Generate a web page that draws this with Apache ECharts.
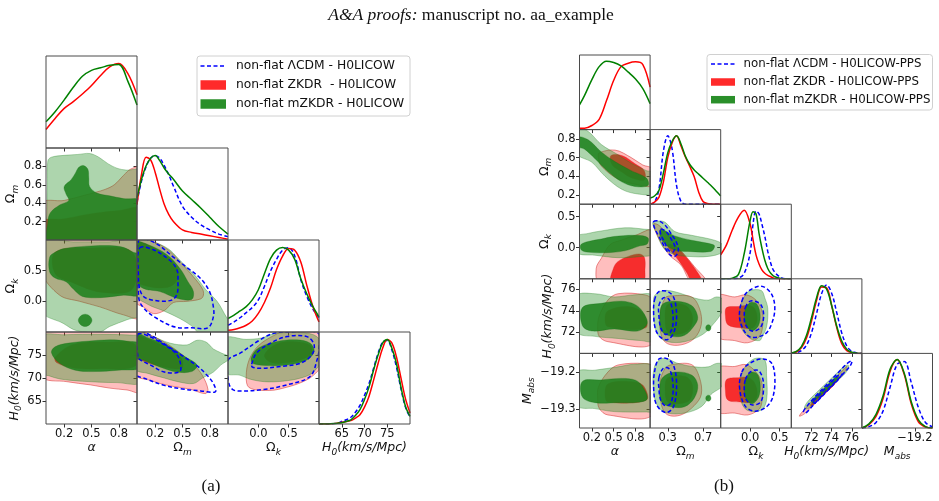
<!DOCTYPE html>
<html><head><meta charset="utf-8">
<script src="https://cdn.jsdelivr.net/npm/echarts@6/dist/echarts.min.js"></script>
<style>html,body{margin:0;padding:0;background:#fff}#c{width:939px;height:501px}</style>
</head><body><div id="c"></div>
<script>
// ================= DATA : panel (a) =================
// tick values
const L_tick_alpha = [0.2, 0.5, 0.8];
const L_tick_om_x = [0.2, 0.5, 0.8];
const L_tick_om_y = [0.2, 0.4, 0.6, 0.8];
const L_tick_ok = [0.0, 0.5];
const L_tick_h0 = [65, 70, 75];
// 1D marginals (normalised density)
const L_alpha_x = [0, 0.1, 0.2, 0.3, 0.4, 0.5, 0.6, 0.7, 0.8, 0.9, 1.0];
const L_alpha_red = [0.22, 0.35, 0.47, 0.55, 0.64, 0.74, 0.86, 0.96, 1.0, 0.88, 0.63];
const L_alpha_green = [0.31, 0.43, 0.57, 0.72, 0.85, 0.92, 0.95, 0.98, 0.99, 0.79, 0.51];
const L_om_x = [0, 0.05, 0.1, 0.15, 0.2, 0.25, 0.3, 0.35, 0.4, 0.5, 0.6, 0.7, 0.8, 0.9, 1.0];
const L_om_blue = [0.45, 0.7, 0.87, 0.97, 1.0, 0.97, 0.88, 0.77, 0.64, 0.4, 0.27, 0.18, 0.12, 0.07, 0.04];
const L_om_red = [0.42, 0.78, 0.98, 0.95, 0.8, 0.6, 0.42, 0.3, 0.22, 0.12, 0.09, 0.07, 0.05, 0.03, 0.01];
const L_om_green = [0.5, 0.72, 0.88, 0.97, 1.0, 0.94, 0.85, 0.78, 0.72, 0.58, 0.48, 0.38, 0.27, 0.16, 0.07];
const L_ok_x = [-0.5, -0.4, -0.3, -0.2, -0.1, 0.0, 0.1, 0.2, 0.3, 0.4, 0.5, 0.6, 0.7, 0.8, 0.9, 1.0];
const L_ok_blue = [0.08, 0.12, 0.17, 0.23, 0.29, 0.38, 0.54, 0.72, 0.86, 0.97, 1.0, 0.9, 0.62, 0.42, 0.27, 0.17];
const L_ok_red = [0.02, 0.03, 0.05, 0.08, 0.13, 0.22, 0.35, 0.52, 0.74, 0.9, 0.99, 0.97, 0.83, 0.55, 0.3, 0.12];
const L_ok_green = [0.16, 0.2, 0.25, 0.3, 0.38, 0.5, 0.69, 0.87, 0.97, 1.0, 0.97, 0.86, 0.63, 0.45, 0.3, 0.18];
const L_h0_x = [60, 62, 64, 65, 66, 67, 68, 69, 70, 71, 72, 73, 74, 75, 76, 77, 78, 79, 80];
const L_h0_blue = [0, 0, 0.01, 0.03, 0.05, 0.08, 0.14, 0.22, 0.34, 0.48, 0.66, 0.84, 0.97, 0.99, 0.88, 0.68, 0.42, 0.2, 0.08];
const L_h0_red = [0, 0, 0.01, 0.02, 0.03, 0.04, 0.07, 0.11, 0.2, 0.33, 0.52, 0.72, 0.9, 1.0, 0.96, 0.8, 0.55, 0.3, 0.13];
const L_h0_green = [0, 0, 0.01, 0.015, 0.03, 0.05, 0.1, 0.17, 0.29, 0.44, 0.64, 0.82, 0.96, 1.0, 0.9, 0.72, 0.44, 0.21, 0.09];
// 2D contours (x, y) in data units
const L_am_r95 = [[-0.05,0.40],[0.2,0.43],[0.4,0.48],[0.55,0.52],[0.65,0.55],[0.75,0.6],[0.85,0.7],[0.93,0.77],[1.05,0.79],[1.05,-0.05],[-0.05,-0.05]];
const L_am_r68 = [[-0.05,0.2],[0.2,0.23],[0.4,0.27],[0.6,0.3],[0.8,0.32],[1.05,0.34],[1.05,-0.05],[-0.05,-0.05]];
const L_am_g95 = [[0.02,0.86],[0.06,0.9],[0.2,0.92],[0.35,0.93],[0.48,0.94],[0.58,0.9],[0.68,0.83],[0.78,0.78],[0.88,0.76],[1.05,0.75],[1.05,-0.05],[0.02,-0.05],[0.01,0.3],[0.015,0.6]];
const L_am_g68 = [[0.03,-0.05],[0.02,0.2],[0.05,0.3],[0.15,0.38],[0.25,0.43],[0.22,0.5],[0.2,0.58],[0.28,0.66],[0.33,0.74],[0.36,0.79],[0.41,0.81],[0.46,0.77],[0.47,0.68],[0.48,0.58],[0.56,0.51],[0.7,0.48],[0.85,0.45],[1.05,0.42],[1.05,-0.05]];
const L_ak_r95 = [[-0.05,1.05],[1.05,1.05],[1.05,-0.26],[0.85,-0.22],[0.59,-0.09],[0.37,0.0],[0.15,0.1],[-0.05,0.48]];
const L_ak_r68 = [[0.1,0.8],[0.5,0.87],[0.95,0.8],[0.95,0.2],[0.6,0.15],[0.3,0.3],[0.1,0.45]];
const L_ak_g95 = [[-0.05,0.97],[0.3,0.97],[0.67,0.97],[1.05,0.96],[1.05,-0.2],[0.89,-0.3],[0.7,-0.41],[0.59,-0.5],[0.34,-0.48],[0.19,-0.36],[-0.05,-0.15]];
const L_ak_g68 = [[0.04,0.72],[0.1,0.8],[0.2,0.86],[0.45,0.9],[0.7,0.91],[0.85,0.88],[0.96,0.8],[1.05,0.75],[1.05,0.12],[0.85,0.1],[0.6,0.06],[0.4,0.08],[0.3,0.2],[0.22,0.32],[0.1,0.38],[0.04,0.48]];
const L_ak_gblob = [[0.505,-0.31],[0.48,-0.24],[0.43,-0.21],[0.38,-0.24],[0.355,-0.31],[0.38,-0.38],[0.43,-0.41],[0.48,-0.38]];
const L_ah_r95 = [[-0.05,80.5],[1.05,80.5],[1.05,67],[0.89,67.4],[0.7,67.8],[0.49,68.5],[0.23,69.2],[-0.05,70.4]];
const L_ah_r68 = [[0.1,74.5],[0.3,77.3],[0.7,77.8],[0.98,77.3],[0.98,72.6],[0.6,72.0],[0.3,72.2],[0.12,73.3]];
const L_ah_g95 = [[-0.05,79.0],[0.2,79.4],[0.6,79.5],[0.97,79.3],[1.05,79.0],[1.05,69.2],[0.78,69.0],[0.4,69.3],[0.15,69.8],[0.03,70.5],[-0.05,71]];
const L_ah_g68 = [[0.06,75.5],[0.1,76.8],[0.25,77.6],[0.45,78.0],[0.7,78.3],[0.9,78.0],[1.05,77.3],[1.05,72.4],[0.8,71.7],[0.52,71.4],[0.32,71.7],[0.15,73.2]];
const L_mk_r95 = [[-0.02,1.05],[0.2,0.96],[0.35,0.83],[0.5,0.6],[0.62,0.4],[0.72,0.2],[0.73,0.1],[0.7,0.04],[0.55,0.0],[0.4,-0.02],[0.3,-0.15],[0.18,-0.2],[0.08,-0.1],[-0.02,0.0]];
const L_mk_r68 = [[-0.02,0.95],[0.15,0.9],[0.35,0.7],[0.45,0.5],[0.42,0.3],[0.3,0.22],[0.1,0.25],[-0.02,0.35]];
const L_mk_g95 = [[-0.02,1.03],[0.2,0.96],[0.35,0.85],[0.44,0.72],[0.55,0.55],[0.65,0.4],[0.75,0.2],[0.88,0.0],[0.96,-0.2],[1.03,-0.4],[1.03,-0.56],[0.72,-0.56],[0.6,-0.4],[0.47,-0.28],[0.3,-0.16],[0.12,-0.05],[-0.02,0.12]];
const L_mk_g68 = [[-0.02,0.96],[0.13,0.92],[0.33,0.76],[0.47,0.54],[0.56,0.32],[0.62,0.16],[0.6,0.03],[0.44,0.05],[0.25,0.16],[0.07,0.21],[-0.02,0.36]];
const L_mk_b95 = [[0.02,1.0],[0.2,0.95],[0.4,0.72],[0.55,0.55],[0.7,0.37],[0.8,0.15],[0.84,-0.1],[0.84,-0.25],[0.78,-0.43],[0.6,-0.43],[0.42,-0.42],[0.22,-0.28],[0.08,-0.12],[0.02,0.05]];
const L_mk_b68 = [[0.03,0.87],[0.18,0.84],[0.36,0.67],[0.44,0.51],[0.45,0.32],[0.44,0.12],[0.38,0.02],[0.22,0.01],[0.08,0.07],[0.03,0.2],[0.015,0.45]];
const L_mh_r95 = [[-0.02,80.5],[0.15,79.3],[0.35,77.2],[0.5,75.0],[0.62,73.0],[0.72,70.5],[0.78,67.5],[0.75,66.6],[0.58,67.6],[0.36,68.3],[0.14,69.5],[-0.02,70.8]];
const L_mh_r68 = [[-0.02,79],[0.14,78.3],[0.3,76.8],[0.48,74.5],[0.5,72.3],[0.4,72],[0.2,72.8],[0.05,73.8],[-0.02,74.5]];
const L_mh_g95 = [[-0.02,80.0],[0.14,79.3],[0.36,77.6],[0.55,77.2],[0.66,78.2],[0.76,77.8],[0.84,76.3],[0.92,75.5],[1.02,74.4],[0.92,72.8],[0.84,71.3],[0.72,70.0],[0.62,68.8],[0.45,69.2],[0.3,70.0],[0.12,71.0],[-0.02,72.0]];
const L_mh_g68 = [[-0.02,79.6],[0.14,78.6],[0.33,77.2],[0.53,74.6],[0.66,72.8],[0.6,71.4],[0.44,71.3],[0.25,72.4],[0.07,73.9],[-0.02,74.5]];
const L_mh_b95 = [[-0.02,80.2],[0.15,79.3],[0.33,77.0],[0.5,74.8],[0.65,72.8],[0.75,71.0],[0.84,68.8],[0.86,67.0],[0.7,67.2],[0.5,67.6],[0.3,68.4],[0.1,69.8],[-0.02,71.0]];
const L_mh_b68 = [[0.01,79.5],[0.14,79.0],[0.3,77.2],[0.42,75.5],[0.47,73.8],[0.47,71.4],[0.3,71.3],[0.15,72.8],[0.04,73.9],[0.01,74.5]];
const L_kh_r95 = [[-0.15,74.0],[0.0,77.0],[0.25,79.2],[0.5,80.5],[0.95,80.5],[1.05,78],[1.05,73],[0.9,70.5],[0.72,69.1],[0.47,68.0],[0.19,67.3],[-0.15,67.9],[-0.2,70.3]];
const L_kh_r68 = [[0.1,75],[0.3,77.4],[0.6,77.9],[0.85,77.2],[0.88,75.5],[0.75,74.2],[0.45,73.3],[0.2,73.4]];
const L_kh_g95 = [[-0.55,78.6],[-0.2,78.4],[0.05,78.7],[0.25,79.6],[0.6,79.9],[0.91,79.4],[1.05,77.5],[1.05,74.0],[0.9,71.2],[0.7,70.0],[0.4,69.3],[0.1,69.2],[-0.15,69.8],[-0.3,70.6],[-0.55,71.2]];
const L_kh_g68 = [[-0.12,74.3],[0.0,76.5],[0.3,77.9],[0.63,78.3],[0.85,77.6],[0.92,75.8],[0.8,73.9],[0.47,72.8],[0.19,72.7],[-0.08,73.1]];
const L_kh_b95 = [[-0.5,73.9],[-0.3,75.4],[0.03,78.3],[0.25,79.7],[0.5,80],[0.98,79.8],[1.0,76.3],[0.97,74.0],[0.85,70.3],[0.47,68.5],[0.08,67.5],[-0.36,67.2],[-0.46,68.0],[-0.5,70.2]];
const L_kh_b68 = [[-0.11,73.0],[-0.03,75.4],[0.19,77.5],[0.47,79.0],[0.8,79.0],[0.92,77.2],[0.88,75.0],[0.69,73.2],[0.36,72.5],[0.03,72.1],[-0.1,72.4]];

// ================= DATA : panel (b) =================
const R_tick_alpha = [0.2, 0.5, 0.8];
const R_tick_om_x = [0.3, 0.7];
const R_tick_om_y = [0.2, 0.4, 0.6, 0.8];
const R_tick_ok = [0.0, 0.5];
const R_tick_h0 = [72, 74, 76];
const R_tick_m_x = [-19.2];
const R_tick_m_y = [-19.2, -19.3];
const R_alpha_x = [0.03, 0.1, 0.2, 0.3, 0.4, 0.5, 0.6, 0.7, 0.8, 0.9, 1.0];
const R_alpha_red = [0.02, 0.02, 0.06, 0.15, 0.42, 0.72, 0.92, 0.97, 0.99, 0.95, 0.62];
const R_alpha_green = [0.36, 0.5, 0.73, 0.92, 1.0, 0.98, 0.93, 0.84, 0.74, 0.6, 0.38];
const R_om_x = [0.1, 0.15, 0.2, 0.25, 0.3, 0.35, 0.4, 0.45, 0.5, 0.55, 0.6, 0.65, 0.7, 0.75, 0.8, 0.85, 0.9];
const R_om_blue = [0.0, 0.03, 0.22, 0.77, 1.0, 0.8, 0.27, 0.04, 0.0, 0, 0, 0, 0, 0, 0, 0, 0];
const R_om_red = [0.0, 0.03, 0.1, 0.32, 0.68, 0.9, 1.0, 0.85, 0.69, 0.55, 0.4, 0.18, 0.04, 0.01, 0, 0, 0];
const R_om_green = [0.09, 0.12, 0.2, 0.45, 0.75, 0.92, 1.0, 0.88, 0.7, 0.58, 0.5, 0.44, 0.38, 0.32, 0.26, 0.19, 0.12];
const R_ok_x = [-0.5, -0.4, -0.3, -0.2, -0.1, 0.0, 0.05, 0.1, 0.15, 0.2, 0.25, 0.3, 0.35, 0.4, 0.5, 0.6, 0.7];
const R_ok_blue = [0, 0, 0, 0.01, 0.08, 0.38, 0.8, 0.99, 0.95, 0.8, 0.62, 0.4, 0.23, 0.12, 0.03, 0, 0];
const R_ok_red = [0.35, 0.5, 0.72, 0.9, 1.0, 0.8, 0.57, 0.35, 0.22, 0.13, 0.08, 0.05, 0.03, 0.01, 0, 0, 0];
const R_ok_green = [0, 0, 0.01, 0.06, 0.37, 0.85, 0.98, 0.95, 0.67, 0.45, 0.27, 0.15, 0.08, 0.04, 0.01, 0, 0];
const R_h0_x = [70, 70.5, 71, 71.5, 72, 72.5, 73, 73.5, 74, 74.5, 75, 75.5, 76, 76.5, 77];
const R_h0_blue = [0.003, 0.01, 0.04, 0.12, 0.3, 0.58, 0.87, 1.0, 0.88, 0.6, 0.3, 0.11, 0.03, 0.01, 0];
const R_h0_red = [0.004, 0.02, 0.08, 0.22, 0.47, 0.77, 0.97, 0.96, 0.7, 0.38, 0.14, 0.04, 0.01, 0, 0];
const R_h0_green = [0.007, 0.03, 0.1, 0.26, 0.52, 0.81, 0.99, 0.94, 0.7, 0.4, 0.18, 0.06, 0.017, 0.004, 0];
const R_m_x = [-19.35, -19.33, -19.31, -19.29, -19.27, -19.25, -19.23, -19.21, -19.19, -19.17, -19.15];
const R_m_blue = [0.0, 0.02, 0.08, 0.25, 0.6, 0.93, 0.97, 0.66, 0.3, 0.08, 0.02];
const R_m_red = [0.0, 0.05, 0.17, 0.43, 0.83, 1.0, 0.78, 0.35, 0.09, 0.015, 0.0];
const R_m_green = [0.0, 0.06, 0.2, 0.47, 0.86, 1.0, 0.8, 0.38, 0.12, 0.02, 0.0];

const R_am_r95 = [[0.3,0.65],[0.52,0.68],[0.74,0.6],[0.9,0.52],[1.03,0.48],[1.03,0.3],[0.83,0.31],[0.56,0.37],[0.33,0.51],[0.29,0.6]];
const R_am_r68 = [[0.46,0.62],[0.62,0.62],[0.8,0.53],[0.92,0.46],[0.92,0.36],[0.75,0.38],[0.6,0.45],[0.48,0.52]];
const R_am_g95 = [[0.0,0.92],[0.15,0.88],[0.33,0.74],[0.56,0.63],[0.74,0.54],[0.95,0.46],[1.03,0.44],[1.03,0.22],[0.83,0.21],[0.61,0.26],[0.38,0.4],[0.2,0.55],[0.0,0.64]];
const R_am_g68 = [[0.0,0.82],[0.15,0.79],[0.33,0.66],[0.51,0.56],[0.74,0.46],[0.95,0.38],[0.97,0.3],[0.79,0.29],[0.61,0.34],[0.42,0.45],[0.24,0.59],[0.1,0.69],[0.0,0.72]];
const R_ak_r95 = [[0.45,0.05],[0.6,0.12],[0.8,0.2],[1.03,0.27],[1.03,-0.55],[0.3,-0.55],[0.26,-0.33],[0.33,-0.17]];
const R_ak_r68 = [[0.47,-0.55],[0.5,-0.32],[0.56,-0.22],[0.7,-0.14],[0.85,-0.1],[0.92,-0.15],[0.93,-0.35],[0.9,-0.55]];
const R_ak_g95 = [[0.0,0.18],[0.15,0.23],[0.33,0.27],[0.65,0.32],[0.9,0.3],[1.03,0.26],[1.03,-0.1],[0.88,-0.14],[0.56,-0.16],[0.24,-0.12],[0.0,-0.08]];
const R_ak_g68 = [[0.05,0.05],[0.15,0.1],[0.33,0.14],[0.5,0.18],[0.82,0.2],[0.97,0.16],[0.96,0.06],[0.86,0.03],[0.65,-0.05],[0.4,-0.08],[0.13,-0.07],[0.05,-0.03]];
const R_ah_r95 = [[0.3,73.5],[0.42,75.0],[0.56,75.6],[0.92,75.5],[1.03,75.0],[1.03,70.9],[0.42,71.1],[0.3,71.6],[0.28,72.5]];
const R_ah_r68 = [[0.42,74.0],[0.7,74.4],[0.9,73.8],[0.94,72.4],[0.42,72.5],[0.38,73.2]];
const R_ah_g95 = [[0.0,75.4],[0.24,75.6],[0.51,75.3],[0.79,75.5],[1.03,75.4],[1.03,71.2],[0.88,71.2],[0.56,71.4],[0.24,71.6],[0.0,72.0]];
const R_ah_g68 = [[0.07,74.3],[0.33,74.7],[0.61,74.9],[0.79,74.6],[0.9,73.9],[0.96,72.8],[0.83,72.1],[0.51,72.3],[0.2,72.1],[0.07,72.6]];
const R_aM_r95 = [[0.29,-19.24],[0.42,-19.2],[0.56,-19.181],[0.92,-19.177],[1.03,-19.185],[1.03,-19.315],[0.42,-19.315],[0.3,-19.297],[0.28,-19.27]];
const R_aM_r68 = [[0.42,-19.232],[0.7,-19.225],[0.9,-19.235],[0.95,-19.275],[0.42,-19.28],[0.38,-19.26]];
const R_aM_g95 = [[0.0,-19.2],[0.24,-19.195],[0.56,-19.186],[0.79,-19.179],[1.03,-19.185],[1.03,-19.305],[0.95,-19.307],[0.51,-19.306],[0.24,-19.298],[0.0,-19.29]];
const R_aM_g68 = [[0.07,-19.225],[0.33,-19.221],[0.61,-19.217],[0.8,-19.222],[0.9,-19.24],[0.96,-19.272],[0.83,-19.281],[0.56,-19.282],[0.24,-19.282],[0.07,-19.267]];
const R_mk_r95 = [[0.14,0.38],[0.2,0.36],[0.3,0.2],[0.38,0.05],[0.47,-0.08],[0.6,-0.3],[0.74,-0.55],[0.57,-0.55],[0.45,-0.28],[0.32,-0.12],[0.2,0.14]];
const R_mk_r68 = [[0.3,0.05],[0.38,0.03],[0.49,-0.12],[0.6,-0.32],[0.69,-0.55],[0.58,-0.55],[0.51,-0.39],[0.42,-0.2],[0.32,-0.03]];
const R_mk_g95 = [[0.13,0.4],[0.2,0.43],[0.27,0.41],[0.38,0.26],[0.57,0.2],[0.83,0.12],[0.92,0.05],[0.92,-0.07],[0.76,-0.14],[0.53,-0.14],[0.38,-0.11],[0.26,-0.02],[0.17,0.24]];
const R_mk_g68 = [[0.22,0.3],[0.3,0.25],[0.38,0.19],[0.57,0.12],[0.76,0.07],[0.83,0.03],[0.79,-0.06],[0.53,-0.06],[0.38,-0.04],[0.26,0.07],[0.21,0.2]];
const R_mk_b95 = [[0.14,0.42],[0.2,0.43],[0.27,0.36],[0.34,0.22],[0.4,0.08],[0.42,-0.05],[0.38,-0.14],[0.33,-0.12],[0.27,0.0],[0.2,0.18],[0.15,0.32]];
const R_mk_b68 = [[0.22,0.3],[0.28,0.26],[0.34,0.14],[0.38,0.02],[0.36,-0.07],[0.31,-0.04],[0.26,0.1],[0.22,0.22]];
const R_mh_r95 = [[0.27,75.2],[0.35,75.4],[0.57,75.3],[0.66,74.2],[0.68,72.7],[0.6,71.4],[0.45,70.8],[0.3,70.9],[0.23,71.6],[0.21,73.5]];
const R_mh_r68 = [[0.3,74.6],[0.5,74.5],[0.58,73.5],[0.55,72.3],[0.42,71.8],[0.3,72.0],[0.27,73.2]];
const R_mh_g95 = [[0.15,75.4],[0.25,75.9],[0.42,75.7],[0.6,75.2],[0.76,75.0],[0.85,75.3],[0.92,75.1],[0.92,74.0],[0.79,72.5],[0.68,71.7],[0.49,71.1],[0.3,71.1],[0.19,71.7],[0.14,73.2],[0.14,74.5]];
const R_mh_g68 = [[0.24,74.6],[0.38,74.9],[0.57,74.5],[0.64,73.4],[0.6,72.6],[0.49,71.7],[0.34,71.6],[0.23,72.1],[0.21,73.3]];
const R_mh_gblob = [[0.79,72.4],[0.78,72.62],[0.76,72.7],[0.74,72.62],[0.73,72.4],[0.74,72.18],[0.76,72.1],[0.78,72.18]];
const R_mh_b95 = [[0.15,75.0],[0.2,75.8],[0.3,75.8],[0.37,75.2],[0.4,73.5],[0.37,72.0],[0.3,71.3],[0.22,71.5],[0.16,72.3],[0.14,73.8]];
const R_mh_b68 = [[0.2,74.5],[0.25,75.2],[0.31,75.1],[0.35,74.2],[0.36,72.8],[0.33,72.0],[0.27,71.8],[0.22,72.4],[0.2,73.5]];
const R_mM_r95 = [[0.27,-19.19],[0.35,-19.18],[0.57,-19.18],[0.66,-19.215],[0.68,-19.26],[0.6,-19.29],[0.45,-19.315],[0.3,-19.315],[0.23,-19.29],[0.21,-19.23]];
const R_mM_r68 = [[0.3,-19.215],[0.5,-19.212],[0.58,-19.235],[0.55,-19.275],[0.42,-19.285],[0.3,-19.28],[0.27,-19.25]];
const R_mM_g95 = [[0.15,-19.185],[0.25,-19.163],[0.42,-19.177],[0.6,-19.186],[0.76,-19.186],[0.85,-19.177],[0.92,-19.18],[0.92,-19.235],[0.79,-19.26],[0.68,-19.293],[0.49,-19.31],[0.3,-19.31],[0.19,-19.293],[0.14,-19.253]];
const R_mM_g68 = [[0.24,-19.215],[0.38,-19.2],[0.57,-19.208],[0.64,-19.235],[0.6,-19.27],[0.49,-19.293],[0.34,-19.293],[0.23,-19.28],[0.21,-19.245]];
const R_mM_gblob = [[0.79,-19.27],[0.78,-19.264],[0.76,-19.262],[0.74,-19.264],[0.73,-19.27],[0.74,-19.276],[0.76,-19.278],[0.78,-19.276]];
const R_mM_b95 = [[0.15,-19.2],[0.2,-19.165],[0.3,-19.165],[0.37,-19.185],[0.4,-19.235],[0.37,-19.29],[0.3,-19.308],[0.22,-19.302],[0.16,-19.28],[0.14,-19.24]];
const R_mM_b68 = [[0.2,-19.215],[0.25,-19.19],[0.31,-19.19],[0.35,-19.215],[0.36,-19.255],[0.33,-19.285],[0.27,-19.29],[0.22,-19.275],[0.2,-19.245]];
const R_kh_r95 = [[-0.55,75.4],[-0.26,75.3],[-0.07,75.5],[0.1,75.0],[0.2,74.0],[0.22,73.0],[0.16,71.6],[-0.04,71.0],[-0.26,71.2],[-0.55,71.6]];
const R_kh_r68 = [[-0.4,74.3],[-0.2,74.4],[-0.02,74.5],[0.08,74.2],[0.12,73.2],[0.05,72.4],[-0.18,72.4],[-0.38,72.7],[-0.42,73.5]];
const R_kh_g95 = [[-0.08,75.5],[0.0,75.9],[0.19,75.9],[0.25,75.2],[0.3,74.2],[0.28,72.5],[0.2,71.5],[0.16,71.2],[0.0,71.4],[-0.15,72.4],[-0.18,74.2]];
const R_kh_g68 = [[-0.06,74.4],[0.02,74.8],[0.12,74.6],[0.17,73.6],[0.14,72.6],[0.03,72.1],[-0.06,72.6],[-0.1,73.6]];
const R_kh_b95 = [[-0.14,74.9],[-0.04,75.8],[0.19,76.3],[0.36,75.6],[0.42,74.2],[0.36,72.7],[0.25,71.8],[0.02,71.5],[-0.1,72.1],[-0.18,73.4]];
const R_kh_b68 = [[-0.08,74.3],[0.0,74.9],[0.13,74.8],[0.2,74.4],[0.23,73.4],[0.17,72.4],[0.03,72.1],[-0.08,72.7],[-0.1,73.6]];
const R_kM_r95 = [[-0.55,-19.19],[-0.26,-19.185],[-0.07,-19.18],[0.1,-19.2],[0.2,-19.23],[0.2,-19.28],[0.15,-19.3],[-0.04,-19.315],[-0.26,-19.31],[-0.55,-19.305]];
const R_kM_r68 = [[-0.4,-19.22],[-0.2,-19.215],[-0.02,-19.215],[0.08,-19.23],[0.12,-19.26],[0.05,-19.28],[-0.18,-19.28],[-0.38,-19.275],[-0.42,-19.25]];
const R_kM_g95 = [[-0.1,-19.19],[-0.03,-19.175],[0.1,-19.163],[0.25,-19.168],[0.28,-19.21],[0.28,-19.275],[0.19,-19.302],[-0.04,-19.303],[-0.15,-19.28],[-0.18,-19.226]];
const R_kM_g68 = [[-0.07,-19.215],[0.02,-19.2],[0.12,-19.205],[0.17,-19.23],[0.15,-19.265],[0.04,-19.285],[-0.06,-19.275],[-0.1,-19.245]];
const R_kM_b95 = [[-0.14,-19.2],[-0.04,-19.18],[0.19,-19.165],[0.36,-19.175],[0.42,-19.213],[0.39,-19.265],[0.28,-19.293],[0.08,-19.305],[-0.09,-19.29],[-0.18,-19.24]];
const R_kM_b68 = [[-0.08,-19.22],[0.0,-19.2],[0.13,-19.195],[0.2,-19.21],[0.23,-19.24],[0.18,-19.28],[0.03,-19.288],[-0.08,-19.27],[-0.1,-19.245]];
const R_hM_r95 = [[70.8,-19.318],[71.3,-19.3],[72.5,-19.265],[73.5,-19.238],[74.5,-19.212],[75.3,-19.19],[75.5,-19.185],[75.3,-19.2],[74.5,-19.226],[73.5,-19.252],[72.5,-19.28],[71.3,-19.312]];
const R_hM_r68 = [[71.9,-19.288],[72.5,-19.27],[73.5,-19.244],[74.3,-19.224],[74.5,-19.222],[74.2,-19.236],[73.5,-19.254],[72.5,-19.28],[72.0,-19.292]];
const R_hM_g95 = [[71.3,-19.297],[71.6,-19.28],[72.5,-19.255],[73.5,-19.229],[74.5,-19.203],[75.3,-19.183],[75.7,-19.183],[75.4,-19.202],[74.5,-19.225],[73.5,-19.251],[72.5,-19.277],[71.7,-19.298]];
const R_hM_g68 = [[72.0,-19.279],[72.5,-19.263],[73.5,-19.237],[74.3,-19.216],[74.7,-19.212],[74.3,-19.228],[73.5,-19.249],[72.5,-19.273],[72.1,-19.283]];
const R_hM_b95 = [[71.2,-19.306],[71.6,-19.29],[72.5,-19.262],[73.5,-19.234],[74.5,-19.206],[75.5,-19.178],[76.0,-19.17],[75.8,-19.185],[74.8,-19.214],[73.8,-19.242],[72.8,-19.27],[71.8,-19.3],[71.4,-19.31]];
const R_hM_b68 = [[72.2,-19.278],[72.8,-19.26],[73.8,-19.232],[74.6,-19.21],[75.0,-19.206],[74.6,-19.222],[73.8,-19.244],[72.8,-19.272],[72.3,-19.284]];

// legend labels
const L_legend = ['non-flat ΛCDM - H0LICOW', 'non-flat ZKDR  - H0LICOW', 'non-flat mZKDR - H0LICOW'];
const R_legend = ['non-flat ΛCDM - H0LICOW-PPS', 'non-flat ZKDR - H0LICOW-PPS', 'non-flat mZKDR - H0LICOW-PPS'];

// ================= STYLES / LAYOUT =================
const FONT = 'DejaVu Sans';
const SERIF = '"Liberation Serif", "DejaVu Serif", serif';
const COL = {blue:'#0000ff', red:'#ff0000', green:'#008000'};
const ST = {
  r95: {fill:'rgba(255,45,45,0.31)', stroke:'rgba(215,50,50,0.75)', lineWidth:0.7},
  r68: {fill:'rgba(245,20,20,0.85)', stroke:'rgba(215,30,30,0.6)', lineWidth:0.5},
  g95: {fill:'rgba(40,145,40,0.38)', stroke:'rgba(30,130,30,0.55)', lineWidth:0.6},
  g68: {fill:'rgba(30,130,30,0.88)', stroke:'rgba(20,110,20,0.6)', lineWidth:0.5},
  b95: {fill:'none', stroke:'#0000ff', lineWidth:1.5, lineDash:[4,2.5]},
  b68: {fill:'none', stroke:'#0000ff', lineWidth:1.5, lineDash:[4,2.5]}
};
const ZS = {r95:2, r68:3, g95:4, g68:5, b95:7, b68:7};

const rich = {
  i: {fontFamily:FONT, fontStyle:'italic', fontSize:12.5, lineHeight:18, verticalAlign:'middle', color:'#111'},
  o: {fontFamily:FONT, fontSize:12.5, lineHeight:18, verticalAlign:'middle', color:'#111'},
  s: {fontFamily:FONT, fontStyle:'italic', fontSize:9, lineHeight:9, verticalAlign:'bottom', color:'#111'}
};

const LP = {x0:46, y0:56, w:91, h:92, gx:15, vars:[
  {min:0, max:1, xt:L_tick_alpha, yt:[], dec:1, label:'{i|α}', gy:24},
  {min:0, max:1, xt:L_tick_om_x, yt:L_tick_om_y, dec:1, label:'{o|Ω}{s|m}', gy:24},
  {min:-0.5, max:1.0, xt:L_tick_ok, yt:L_tick_ok, dec:1, label:'{o|Ω}{s|k}', gy:24},
  {min:60, max:80, xt:L_tick_h0, yt:L_tick_h0, dec:0, label:'{i|H}{s|0}{i|(km/s/Mpc)}', gy:19}
]};
const RP = {x0:579.5, y0:55, w:70.6, h:74.6, gx:15, vars:[
  {min:0.03, max:1.0, xt:R_tick_alpha, yt:[], dec:1, label:'{i|α}', gy:17},
  {min:0.1, max:0.9, xt:R_tick_om_x, yt:R_tick_om_y, dec:1, label:'{o|Ω}{s|m}', gy:17},
  {min:-0.5, max:0.7, xt:R_tick_ok, yt:R_tick_ok, dec:1, label:'{o|Ω}{s|k}', gy:14},
  {min:70, max:77, xt:R_tick_h0, yt:R_tick_h0, dec:0, label:'{i|H}{s|0}{i|(km/s/Mpc)}', gy:7},
  {min:-19.35, max:-19.15, xt:R_tick_m_x, yt:R_tick_m_y, dec:1, label:'{i|M}{s|abs}', gy:30}
]};

const option = {animation:false, backgroundColor:'#ffffff', grid:[], xAxis:[], yAxis:[], series:[], graphic:[]};

function fmt(dec) { return v => (v < 0 ? '\u2212' : '') + Math.abs(v).toFixed(dec); }

function axisDef(kind, v, g, showLabel, gap) {
  const ticks = kind === 'x' ? v.xt : v.yt;
  return {
    type:'value', gridIndex:g, min:v.min, max:v.max,
    position: kind === 'x' ? 'bottom' : 'left',
    axisLine:{show:false, onZero:false}, splitLine:{show:false},
    axisTick:{show:ticks.length > 0, inside:false, length:3.5, lineStyle:{color:'#333', width:1}, customValues:ticks},
    axisLabel:{show:showLabel, customValues:ticks, formatter:fmt(v.dec), fontFamily:FONT, fontSize:11.5, color:'#111', margin:4},
    name: showLabel ? v.label : '', nameLocation:'middle', nameGap:gap, nameRotate: kind === 'y' ? 90 : 0,
    nameTextStyle:{rich:rich}
  };
}

function buildPanel(P) {
  const n = P.vars.length, idx = {};
  for (let i = 0; i < n; i++) for (let j = 0; j <= i; j++) {
    const g = option.grid.length;
    option.grid.push({left:P.x0 + j * P.w, top:P.y0 + i * P.h, width:P.w, height:P.h, show:true,
      borderColor:'#4a4a4a', borderWidth:1, backgroundColor:'transparent', z:10});
    const vx = P.vars[j], vy = P.vars[i];
    const xi = option.xAxis.length;
    option.xAxis.push(axisDef('x', vx, g, i === n - 1, P.gx));
    let yi = null, yd = null;
    if (i === j) {
      yd = option.yAxis.length;
      option.yAxis.push({type:'value', gridIndex:g, min:0, max:1.09, show:false, axisLine:{onZero:false}});
      if (i > 0) option.yAxis.push(axisDef('y', vy, g, false, 0));
    } else {
      yi = option.yAxis.length;
      option.yAxis.push(axisDef('y', vy, g, j === 0, vy.gy));
    }
    idx[i + ',' + j] = {xi, yi, yd};
  }
  return idx;
}

function addLine(ax, xs, ys, color, dashed) {
  option.series.push({type:'line', xAxisIndex:ax.xi, yAxisIndex:ax.yd, data:xs.map((x, k) => [x, ys[k]]),
    smooth:0.35, symbol:'none', silent:true, z:6,
    lineStyle:{color:color, width:1.5, type: dashed ? [4, 2.5] : 'solid'}});
}

function addPoly(ax, pts, key) {
  option.series.push({type:'custom', xAxisIndex:ax.xi, yAxisIndex:ax.yi, clip:true, silent:true, z:ZS[key],
    data:pts,
    renderItem:(params, api) => {
      if (params.dataIndex !== 0) return null;
      return {type:'polygon', shape:{points:pts.map(p => api.coord(p)), smooth:0.35},
        style:Object.assign({}, ST[key])};
    }});
}

function addCell(ax, set) {
  ['r95','r68','g95','g68','gblob','b95','b68'].forEach(k => {
    if (set[k]) addPoly(ax, set[k], k === 'gblob' ? 'g68' : k);
  });
}

// ---- panel (a)
const LI = buildPanel(LP);
addLine(LI['0,0'], L_alpha_x, L_alpha_red, COL.red);
addLine(LI['0,0'], L_alpha_x, L_alpha_green, COL.green);
addLine(LI['1,1'], L_om_x, L_om_blue, COL.blue, true);
addLine(LI['1,1'], L_om_x, L_om_red, COL.red);
addLine(LI['1,1'], L_om_x, L_om_green, COL.green);
addLine(LI['2,2'], L_ok_x, L_ok_blue, COL.blue, true);
addLine(LI['2,2'], L_ok_x, L_ok_red, COL.red);
addLine(LI['2,2'], L_ok_x, L_ok_green, COL.green);
addLine(LI['3,3'], L_h0_x, L_h0_blue, COL.blue, true);
addLine(LI['3,3'], L_h0_x, L_h0_red, COL.red);
addLine(LI['3,3'], L_h0_x, L_h0_green, COL.green);
addCell(LI['1,0'], {r95:L_am_r95, r68:L_am_r68, g95:L_am_g95, g68:L_am_g68});
addCell(LI['2,0'], {r95:L_ak_r95, r68:L_ak_r68, g95:L_ak_g95, g68:L_ak_g68, gblob:L_ak_gblob});
addCell(LI['3,0'], {r95:L_ah_r95, r68:L_ah_r68, g95:L_ah_g95, g68:L_ah_g68});
addCell(LI['2,1'], {r95:L_mk_r95, r68:L_mk_r68, g95:L_mk_g95, g68:L_mk_g68, b95:L_mk_b95, b68:L_mk_b68});
addCell(LI['3,1'], {r95:L_mh_r95, r68:L_mh_r68, g95:L_mh_g95, g68:L_mh_g68, b95:L_mh_b95, b68:L_mh_b68});
addCell(LI['3,2'], {r95:L_kh_r95, r68:L_kh_r68, g95:L_kh_g95, g68:L_kh_g68, b95:L_kh_b95, b68:L_kh_b68});

// ---- panel (b)
const RI = buildPanel(RP);
addLine(RI['0,0'], R_alpha_x, R_alpha_red, COL.red);
addLine(RI['0,0'], R_alpha_x, R_alpha_green, COL.green);
addLine(RI['1,1'], R_om_x, R_om_blue, COL.blue, true);
addLine(RI['1,1'], R_om_x, R_om_red, COL.red);
addLine(RI['1,1'], R_om_x, R_om_green, COL.green);
addLine(RI['2,2'], R_ok_x, R_ok_blue, COL.blue, true);
addLine(RI['2,2'], R_ok_x, R_ok_red, COL.red);
addLine(RI['2,2'], R_ok_x, R_ok_green, COL.green);
addLine(RI['3,3'], R_h0_x, R_h0_blue, COL.blue, true);
addLine(RI['3,3'], R_h0_x, R_h0_red, COL.red);
addLine(RI['3,3'], R_h0_x, R_h0_green, COL.green);
addLine(RI['4,4'], R_m_x, R_m_blue, COL.blue, true);
addLine(RI['4,4'], R_m_x, R_m_red, COL.red);
addLine(RI['4,4'], R_m_x, R_m_green, COL.green);
addCell(RI['1,0'], {r95:R_am_r95, r68:R_am_r68, g95:R_am_g95, g68:R_am_g68});
addCell(RI['2,0'], {r95:R_ak_r95, r68:R_ak_r68, g95:R_ak_g95, g68:R_ak_g68});
addCell(RI['3,0'], {r95:R_ah_r95, r68:R_ah_r68, g95:R_ah_g95, g68:R_ah_g68});
addCell(RI['4,0'], {r95:R_aM_r95, r68:R_aM_r68, g95:R_aM_g95, g68:R_aM_g68});
addCell(RI['2,1'], {r95:R_mk_r95, r68:R_mk_r68, g95:R_mk_g95, g68:R_mk_g68, b95:R_mk_b95, b68:R_mk_b68});
addCell(RI['3,1'], {r95:R_mh_r95, r68:R_mh_r68, g95:R_mh_g95, g68:R_mh_g68, gblob:R_mh_gblob, b95:R_mh_b95, b68:R_mh_b68});
addCell(RI['4,1'], {r95:R_mM_r95, r68:R_mM_r68, g95:R_mM_g95, g68:R_mM_g68, gblob:R_mM_gblob, b95:R_mM_b95, b68:R_mM_b68});
addCell(RI['3,2'], {r95:R_kh_r95, r68:R_kh_r68, g95:R_kh_g95, g68:R_kh_g68, b95:R_kh_b95, b68:R_kh_b68});
addCell(RI['4,2'], {r95:R_kM_r95, r68:R_kM_r68, g95:R_kM_g95, g68:R_kM_g68, b95:R_kM_b95, b68:R_kM_b68});
addCell(RI['4,3'], {r95:R_hM_r95, r68:R_hM_r68, g95:R_hM_g95, g68:R_hM_g68, b95:R_hM_b95, b68:R_hM_b68});

// ---- legends, title, captions
function legend(box, labels, fs) {
  const g = [];
  g.push({type:'rect', shape:{x:box.x, y:box.y, width:box.w, height:box.h, r:3},
    style:{fill:'rgba(255,255,255,0.8)', stroke:'#d0d0d0', lineWidth:1}, z:20});
  const ys = box.rows;
  g.push({type:'line', shape:{x1:box.px, y1:ys[0], x2:box.px + box.pw, y2:ys[0]},
    style:{stroke:'#0000ff', lineWidth:1.5, lineDash:[4,2.5]}, z:21});
  g.push({type:'rect', shape:{x:box.px, y:ys[1] - box.ph / 2, width:box.pw, height:box.ph},
    style:{fill:'#ff2a2a'}, z:21});
  g.push({type:'rect', shape:{x:box.px, y:ys[2] - box.ph / 2, width:box.pw, height:box.ph},
    style:{fill:'#2a8f2a'}, z:21});
  labels.forEach((t, k) => g.push({type:'text', x:box.tx, y:ys[k], z:21,
    style:{text:t, fontFamily:FONT, fontSize:fs, fill:'#111', verticalAlign:'middle', align:'left'}}));
  return g;
}
option.graphic = [].concat(
  legend({x:197, y:56, w:213, h:60, rows:[66, 85, 104], px:200.5, pw:25.5, ph:9.5, tx:236}, L_legend, 12.3),
  legend({x:707, y:54.5, w:225.5, h:55.5, rows:[64, 82, 99.7], px:711, pw:24, ph:7.5, tx:743.5}, R_legend, 11.8),
  [
    {type:'text', x:471, y:15, style:{text:'{it|A&A proofs:} manuscript no. aa_example', fontFamily:SERIF, fontSize:17.5,
      fill:'#111', align:'center', verticalAlign:'middle',
      rich:{it:{fontFamily:SERIF, fontSize:17.5, fontStyle:'italic', fill:'#111'}}}},
    {type:'text', x:211, y:487, style:{text:'(a)', fontFamily:SERIF, fontSize:17, fill:'#111', align:'center', verticalAlign:'middle'}},
    {type:'text', x:724, y:487, style:{text:'(b)', fontFamily:SERIF, fontSize:17, fill:'#111', align:'center', verticalAlign:'middle'}}
  ]
);

const chart = echarts.init(document.getElementById('c'), null, {renderer:'canvas'});
chart.setOption(option);
</script>
</body></html>
